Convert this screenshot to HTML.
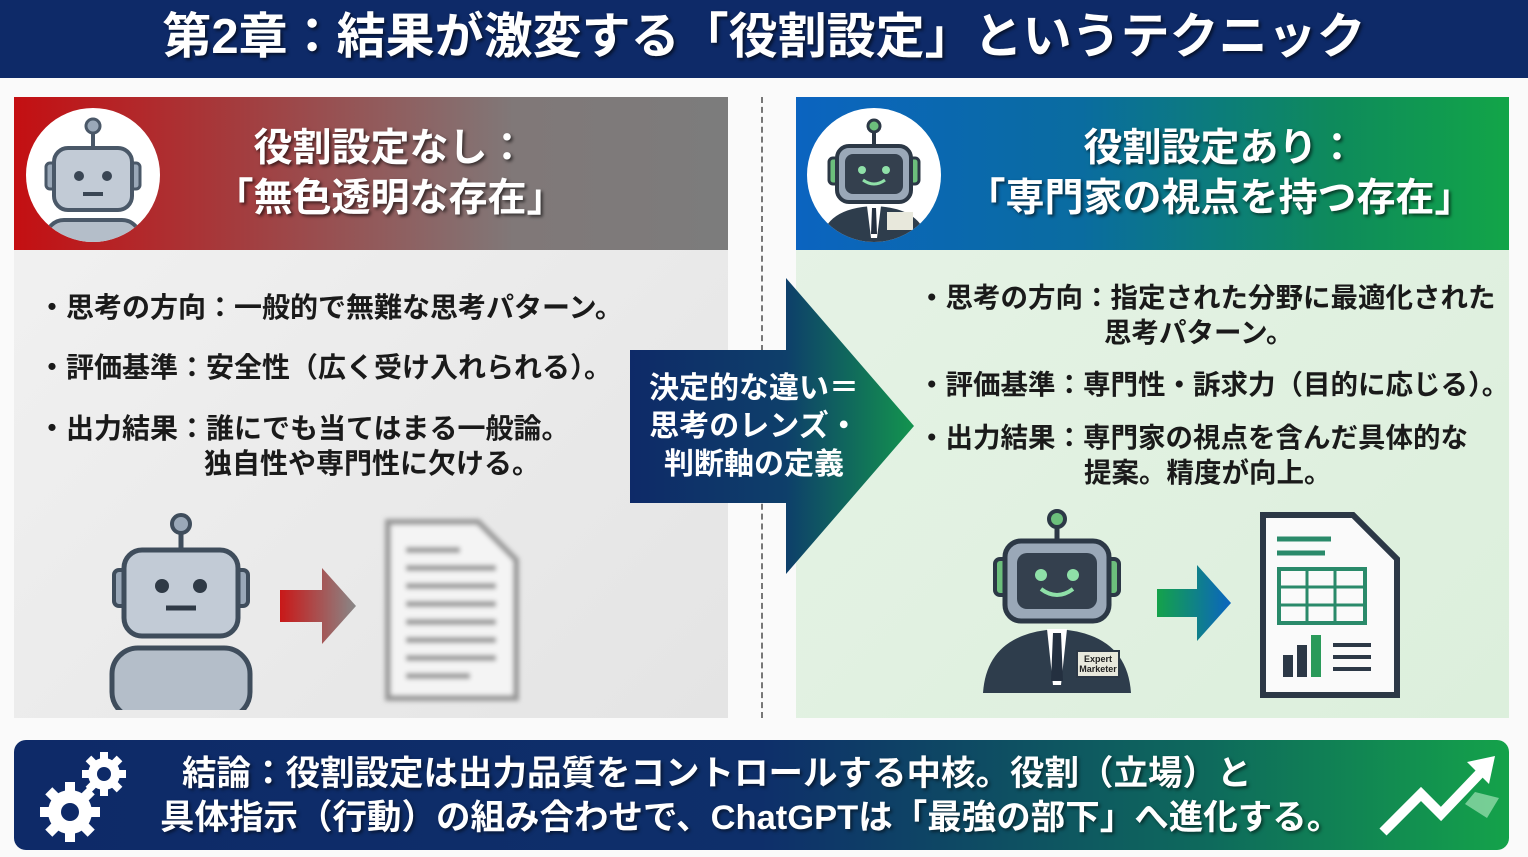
<!DOCTYPE html>
<html><head><meta charset="utf-8"><style>
*{margin:0;padding:0;box-sizing:border-box}
body{width:1528px;height:857px;background:#fafafa;position:relative;overflow:hidden;font-family:"Liberation Sans","Noto Sans CJK JP",sans-serif;font-weight:bold}
.a{position:absolute}
.hdr{left:0;top:0;width:1528px;height:78px;background:#0e2a68;color:#fff;font-size:49px;text-align:center;line-height:74px;text-shadow:2px 2px 3px rgba(0,0,0,.6);white-space:nowrap}
.ph{color:#fff;font-size:39px;text-align:center;line-height:50px;text-shadow:2px 2px 3px rgba(0,0,0,.6);white-space:nowrap}
.b{font-size:28px;color:#1a1a1a;line-height:35px;white-space:nowrap}
.c{font-size:27.5px;color:#1a1a1a;line-height:35px;white-space:nowrap}
</style></head><body>
<div class="a hdr">第2章：結果が激変する「役割設定」というテクニック</div>

<div class="a" style="left:14px;top:97px;width:714px;height:621px;background:linear-gradient(135deg,#f2f2f2,#e4e4e4)"></div>
<div class="a" style="left:14px;top:97px;width:714px;height:153px;background:linear-gradient(90deg,#c40f12 0%,#a53a3c 30%,#807878 70%,#7c7c7c 100%)"></div>
<div class="a" style="left:26px;top:108px;width:134px;height:134px;border-radius:50%;background:#fff;overflow:hidden">
<svg width="134" height="134"><line x1="67" y1="20" x2="67" y2="42" stroke="#4a5868" stroke-width="4"/><circle cx="67" cy="18" r="7" fill="#9aa8b8" stroke="#4a5868" stroke-width="3"/><rect x="20" y="55" width="10" height="26" rx="4" fill="#9aa8b8" stroke="#4a5868" stroke-width="3"/><rect x="104" y="55" width="10" height="26" rx="4" fill="#9aa8b8" stroke="#4a5868" stroke-width="3"/><rect x="28" y="40" width="78" height="62" rx="14" fill="#c2cbd6" stroke="#4a5868" stroke-width="4"/><circle cx="53" cy="68" r="5" fill="#3a4654"/><circle cx="81" cy="68" r="5" fill="#3a4654"/><line x1="57" y1="86" x2="77" y2="86" stroke="#3a4654" stroke-width="4"/><rect x="20" y="112" width="94" height="40" rx="18" fill="#b4bec9" stroke="#4a5868" stroke-width="4"/></svg></div>
<div class="a ph" style="left:190px;top:124px;width:400px">役割設定なし：<br>「無色透明な存在」</div>
<div class="a b" style="left:38px;top:290px">・思考の方向：一般的で無難な思考パターン。</div>
<div class="a b" style="left:38px;top:350px">・評価基準：安全性（広く受け入れられる）。</div>
<div class="a b" style="left:38px;top:411px">・出力結果：誰にでも当てはまる一般論。<br><span style="padding-left:166px">独自性や専門性に欠ける。</span></div>
<svg class="a" style="left:100px;top:510px" width="440" height="200">
<line x1="81" y1="18" x2="81" y2="40" stroke="#3f4d5c" stroke-width="5"/><circle cx="81" cy="14" r="9" fill="#9aa8b8" stroke="#3f4d5c" stroke-width="4"/>
<rect x="14" y="60" width="14" height="36" rx="5" fill="#9aa8b8" stroke="#3f4d5c" stroke-width="4"/><rect x="134" y="60" width="14" height="36" rx="5" fill="#9aa8b8" stroke="#3f4d5c" stroke-width="4"/>
<rect x="24" y="40" width="114" height="86" rx="18" fill="#c2cbd6" stroke="#3f4d5c" stroke-width="5"/><circle cx="62" cy="76" r="7" fill="#2f3a46"/><circle cx="100" cy="76" r="7" fill="#2f3a46"/><line x1="66" y1="98" x2="96" y2="98" stroke="#2f3a46" stroke-width="5"/>
<rect x="12" y="138" width="138" height="70" rx="26" fill="#b4bec9" stroke="#3f4d5c" stroke-width="5"/>
<defs><linearGradient id="rg"><stop offset="0" stop-color="#c91818"/><stop offset="1" stop-color="#888"/></linearGradient><filter id="bl"><feGaussianBlur stdDeviation="2.5"/></filter></defs>
<polygon points="180,80 222,80 222,58 256,96 222,134 222,112 180,112" fill="url(#rg)"/>
<g filter="url(#bl)"><path d="M288,12 H378 L416,50 V188 H288 Z" fill="#f4f4f4" stroke="#999" stroke-width="6"/><g stroke="#999" stroke-width="6"><line x1="306" y1="40" x2="360" y2="40"/><line x1="306" y1="58" x2="396" y2="58"/><line x1="306" y1="76" x2="396" y2="76"/><line x1="306" y1="94" x2="396" y2="94"/><line x1="306" y1="112" x2="396" y2="112"/><line x1="306" y1="130" x2="396" y2="130"/><line x1="306" y1="148" x2="396" y2="148"/><line x1="306" y1="166" x2="370" y2="166"/></g></g>
</svg>

<div class="a" style="left:761px;top:97px;height:621px;border-left:2px dashed #777"></div>

<div class="a" style="left:796px;top:97px;width:713px;height:621px;background:linear-gradient(135deg,#e6f3e6,#dcefdc)"></div>
<div class="a" style="left:796px;top:97px;width:713px;height:153px;background:linear-gradient(90deg,#0b64c0 0%,#0a6ca0 40%,#0e8a5c 75%,#12a548 100%)"></div>
<div class="a" style="left:807px;top:108px;width:134px;height:134px;border-radius:50%;background:#fff;overflow:hidden">
<svg width="134" height="134"><line x1="67" y1="20" x2="67" y2="40" stroke="#2c3846" stroke-width="4"/><circle cx="67" cy="18" r="6" fill="#6cbf7c" stroke="#2c3846" stroke-width="3"/><rect x="22" y="50" width="10" height="26" rx="4" fill="#6cbf7c" stroke="#2c3846" stroke-width="3"/><rect x="102" y="50" width="10" height="26" rx="4" fill="#6cbf7c" stroke="#2c3846" stroke-width="3"/><rect x="30" y="38" width="74" height="56" rx="12" fill="#9aa8b8" stroke="#2c3846" stroke-width="4"/><rect x="38" y="46" width="58" height="40" rx="8" fill="#34404e"/><circle cx="55" cy="62" r="4" fill="#8fe0a8"/><circle cx="79" cy="62" r="4" fill="#8fe0a8"/><path d="M56,72 Q67,80 78,72" stroke="#8fe0a8" stroke-width="3" fill="none"/><path d="M14,134 Q18,100 67,98 Q116,100 120,134Z" fill="#2e3d4c"/><polygon points="60,98 74,98 70,130 64,130" fill="#fff"/><polygon points="65,100 69,100 70,126 64,126" fill="#243040"/><rect x="80" y="104" width="26" height="18" fill="#e8e8dc"/></svg></div>
<div class="a ph" style="left:960px;top:124px;width:520px">役割設定あり：<br>「専門家の視点を持つ存在」</div>
<div class="a c" style="left:918px;top:280px">・思考の方向：指定された分野に最適化された<br><span style="padding-left:186px">思考パターン。</span></div>
<div class="a c" style="left:918px;top:367px">・評価基準：専門性・訴求力（目的に応じる）。</div>
<div class="a c" style="left:918px;top:420px">・出力結果：専門家の視点を含んだ具体的な<br><span style="padding-left:166px">提案。精度が向上。</span></div>
<svg class="a" style="left:975px;top:505px" width="440" height="200">
<defs><linearGradient id="gg"><stop offset="0" stop-color="#14a24a"/><stop offset="1" stop-color="#0b64c0"/></linearGradient></defs>
<line x1="82" y1="18" x2="82" y2="40" stroke="#2c3846" stroke-width="5"/><circle cx="82" cy="14" r="8" fill="#6cbf7c" stroke="#2c3846" stroke-width="4"/>
<rect x="20" y="54" width="14" height="36" rx="5" fill="#6cbf7c" stroke="#2c3846" stroke-width="4"/><rect x="130" y="54" width="14" height="36" rx="5" fill="#6cbf7c" stroke="#2c3846" stroke-width="4"/>
<rect x="30" y="36" width="104" height="80" rx="16" fill="#9aa8b8" stroke="#2c3846" stroke-width="5"/><rect x="42" y="48" width="80" height="56" rx="10" fill="#34404e"/><circle cx="66" cy="70" r="6" fill="#8fe0a8"/><circle cx="98" cy="70" r="6" fill="#8fe0a8"/><path d="M66,84 Q82,96 98,84" stroke="#8fe0a8" stroke-width="4" fill="none"/>
<path d="M8,188 Q12,128 82,124 Q152,128 156,188Z" fill="#2e3d4c"/><polygon points="72,124 92,124 86,180 78,180" fill="#fff"/><polygon points="78,128 86,128 88,176 76,176" fill="#243040"/><rect x="102" y="146" width="42" height="26" fill="#e8e8dc" stroke="#2c3846" stroke-width="2"/><text x="123" y="157" font-size="9" text-anchor="middle" fill="#222" font-family="Liberation Sans">Expert</text><text x="123" y="167" font-size="9" text-anchor="middle" fill="#222" font-family="Liberation Sans">Marketer</text>
<polygon points="182,84 222,84 222,60 256,98 222,136 222,112 182,112" fill="url(#gg)"/>
<path d="M288,10 H378 L422,54 V190 H288 Z" fill="#fafafa" stroke="#2c3846" stroke-width="6"/>
<g stroke="#2a8a6a" stroke-width="5"><line x1="302" y1="34" x2="356" y2="34"/><line x1="302" y1="48" x2="350" y2="48"/></g>
<rect x="304" y="64" width="86" height="54" fill="none" stroke="#2a8a6a" stroke-width="4"/><g stroke="#2a8a6a" stroke-width="3"><line x1="304" y1="82" x2="390" y2="82"/><line x1="304" y1="100" x2="390" y2="100"/><line x1="332" y1="64" x2="332" y2="118"/><line x1="360" y1="64" x2="360" y2="118"/></g>
<g fill="#2c3846"><rect x="308" y="150" width="10" height="22"/><rect x="322" y="140" width="10" height="32"/></g><rect x="336" y="130" width="10" height="42" fill="#2a9a5a"/><g stroke="#2c3846" stroke-width="4"><line x1="358" y1="140" x2="396" y2="140"/><line x1="358" y1="152" x2="396" y2="152"/><line x1="358" y1="164" x2="396" y2="164"/></g>
</svg>

<svg class="a" style="left:628px;top:276px" width="290" height="302">
<defs><linearGradient id="ag" x1="0" y1="0" x2="1" y2="0"><stop offset="0" stop-color="#0e2a68"/><stop offset="0.55" stop-color="#0e3f6a"/><stop offset="1" stop-color="#13944e"/></linearGradient></defs>
<polygon points="2,74 158,74 158,2 286,150 158,298 158,227 2,227" fill="url(#ag)"/>
</svg>
<div class="a" style="left:632px;top:370px;width:244px;text-align:center;color:#fff;font-size:30px;line-height:38px;white-space:nowrap">決定的な違い＝<br>思考のレンズ・<br>判断軸の定義</div>

<div class="a" style="left:14px;top:740px;width:1495px;height:110px;border-radius:12px;background:linear-gradient(90deg,#0e2a68 0%,#0e2f6a 50%,#0e6a5c 80%,#14a24a 100%)"></div>
<svg class="a" style="left:38px;top:748px" width="100" height="100"><g fill="#fff"><circle cx="66" cy="26" r="16"/><circle cx="32" cy="64" r="22"/></g><g fill="#fff"><g transform="translate(66,26)"><rect x="-4" y="-22" width="8" height="44"/><rect x="-22" y="-4" width="44" height="8"/><rect x="-4" y="-22" width="8" height="44" transform="rotate(45)"/><rect x="-4" y="-22" width="8" height="44" transform="rotate(-45)"/></g><g transform="translate(32,64)"><rect x="-5" y="-30" width="10" height="60"/><rect x="-30" y="-5" width="60" height="10"/><rect x="-5" y="-30" width="10" height="60" transform="rotate(45)"/><rect x="-5" y="-30" width="10" height="60" transform="rotate(-45)"/></g></g><circle cx="66" cy="26" r="7" fill="#0e2a68"/><circle cx="32" cy="64" r="9" fill="#0e2a68"/></svg>
<div class="a" style="left:160px;top:752px;color:#fff;font-size:34.5px;line-height:44px;text-shadow:2px 2px 3px rgba(0,0,0,.5);white-space:nowrap"><span style="padding-left:22px">結論：役割設定は出力品質をコントロールする中核。役割（立場）と</span><br>具体指示（行動）の組み合わせで、ChatGPTは「最強の部下」へ進化する。</div>
<svg class="a" style="left:1375px;top:752px" width="130" height="90"><polyline points="8,80 46,42 66,62 108,18" fill="none" stroke="#fff" stroke-width="10"/><polygon points="92,10 120,4 114,32" fill="#fff"/><polygon points="100,40 124,46 112,66 90,52" fill="#8fd9a8" opacity="0.8"/></svg>
</body></html>
